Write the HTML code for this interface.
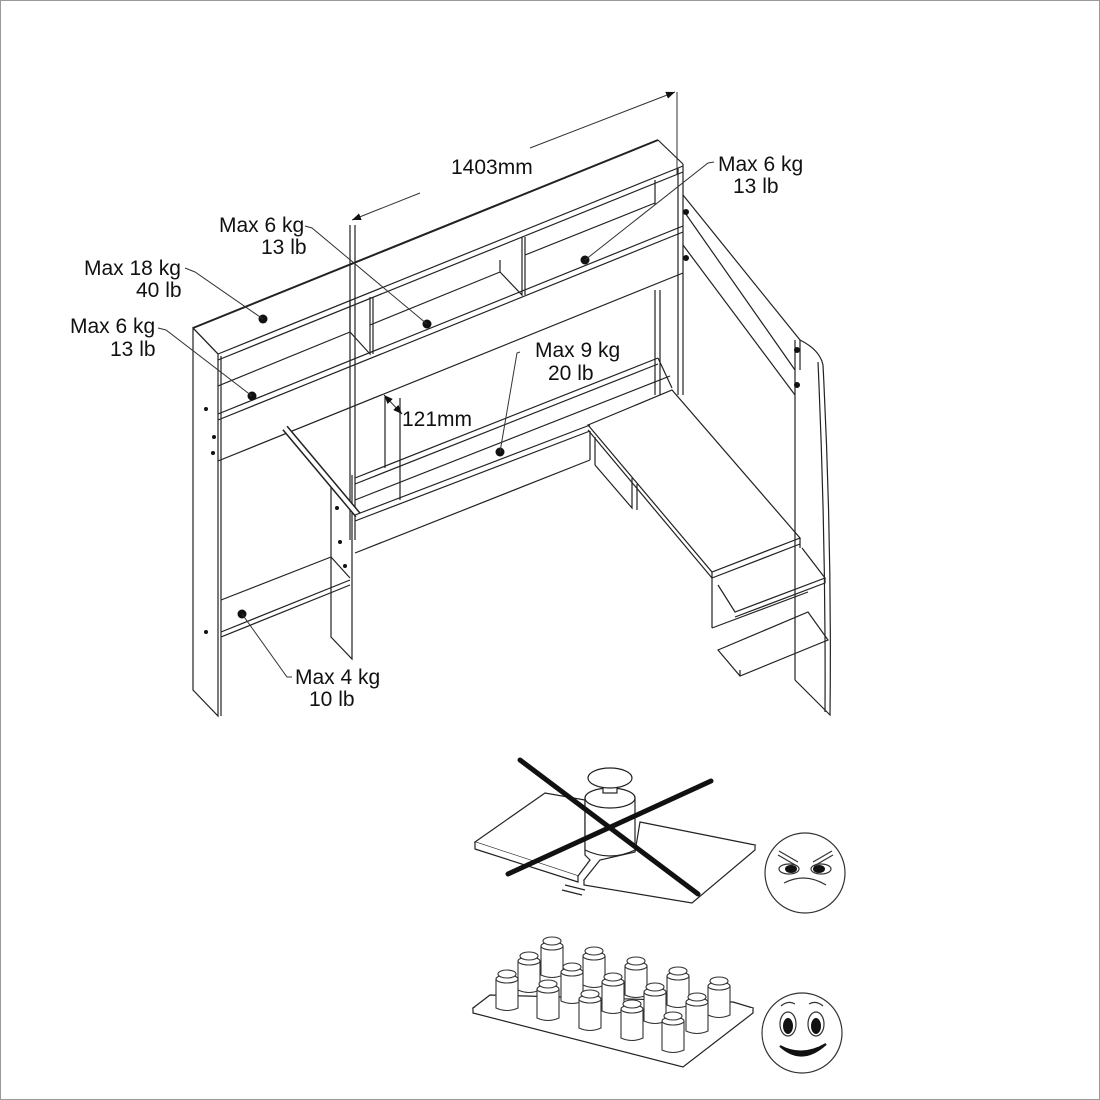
<!DOCTYPE html>
<html><head><meta charset="utf-8"><style>
html,body{margin:0;padding:0;background:#fff}
svg{display:block}
text{font-family:"Liberation Sans",sans-serif;font-size:21px;fill:#111}
</style></head><body>
<svg width="1100" height="1100" viewBox="0 0 1100 1100" xmlns="http://www.w3.org/2000/svg">
<defs>
<marker id="ar" viewBox="0 0 10 10" refX="10" refY="5" markerWidth="9" markerHeight="9" orient="auto-start-reverse"><path d="M0,1 L10,5 L0,9 z" fill="#111"/></marker>
</defs>
<rect x="0.5" y="0.5" width="1099" height="1099" fill="#fff" stroke="#999"/>
<g fill="none" stroke="#222" stroke-width="1.2">
<path d="M193,328 L193,690 L218,716 L218,354 Z"/>
<line x1="193" y1="328" x2="218" y2="354"/>
<line x1="221" y1="356" x2="221" y2="716"/>
<line x1="193" y1="328" x2="658" y2="140" stroke-width="2"/>
<line x1="658" y1="140" x2="683" y2="164"/>
<line x1="218" y1="354" x2="683" y2="166"/>
<line x1="218" y1="360" x2="683" y2="172"/>
<line x1="683" y1="164" x2="683" y2="395"/>
<line x1="678" y1="168" x2="678" y2="395"/>
<line x1="655" y1="180" x2="655" y2="205"/>
<line x1="218" y1="386" x2="350" y2="332"/>
<line x1="370" y1="325" x2="500" y2="272"/>
<line x1="525" y1="255" x2="655" y2="203"/>
<line x1="218" y1="414" x2="683" y2="226"/>
<line x1="218" y1="420" x2="683" y2="232"/>
<line x1="218" y1="461" x2="683" y2="273"/>
<path d="M350,332 L370,354 L370,297"/>
<line x1="373" y1="297" x2="373" y2="354"/>
<path d="M500,272 L500,260 M500,272 L522,295 L522,237"/>
<line x1="525" y1="237" x2="525" y2="295"/>
<line x1="350" y1="300" x2="350" y2="332"/>
<line x1="350" y1="225" x2="350" y2="540"/>
<line x1="355" y1="225" x2="355" y2="540"/>
<line x1="655" y1="290" x2="655" y2="395"/>
<line x1="660" y1="290" x2="660" y2="395"/>
<path d="M331,480 L331,637 L352,659 L352,475"/>
<line x1="221" y1="600" x2="331" y2="557"/>
<line x1="331" y1="557" x2="350" y2="578"/>
<line x1="221" y1="632" x2="350" y2="580"/>
<line x1="221" y1="637" x2="350" y2="585"/>
<line x1="285" y1="428" x2="358" y2="515" stroke-width="7" stroke="#222"/>
<line x1="285" y1="428" x2="358" y2="515" stroke-width="4" stroke="#fff"/>
<line x1="355" y1="478" x2="658" y2="358"/>
<line x1="355" y1="484" x2="658" y2="364"/>
<line x1="355" y1="500" x2="670" y2="376"/>
<line x1="658" y1="358" x2="672" y2="388"/>
<line x1="355" y1="515" x2="590" y2="425"/>
<line x1="355" y1="521" x2="590" y2="431"/>
<line x1="355" y1="553" x2="590" y2="460"/>
<line x1="385" y1="397" x2="385" y2="468"/>
<line x1="400" y1="398" x2="400" y2="500"/>
<path d="M588,425 L672,390 L800,538 L712,572 Z"/>
<line x1="588" y1="430" x2="712" y2="578"/>
<line x1="590" y1="431" x2="590" y2="460"/>
<line x1="595" y1="437" x2="595" y2="465"/>
<path d="M595,465 L632,508 L632,478"/>
<line x1="637" y1="484" x2="637" y2="510"/>
<path d="M712,572 L712,628 M712,578 L800,544 M800,538 L800,548"/>
<path d="M718,585 L735,612 L825,578 L802,548 M735,617 L825,583 L825,578"/>
<path d="M712,628 L808,592"/>
<path d="M718,650 L808,612 L828,640 L740,676 Z"/>
<line x1="740" y1="676" x2="740" y2="670"/>
<path d="M683,195 L800,340 L800,370"/>
<line x1="683" y1="210" x2="795" y2="370"/>
<line x1="683" y1="245" x2="795" y2="395"/>
<line x1="795" y1="340" x2="795" y2="680"/>
<path d="M800,340 Q820,350 823,365 Q832,540 830,715 L795,680"/>
<path d="M818,362 Q826,540 825,712"/>
</g>
<g fill="#111">
<circle cx="263" cy="319" r="4.5"/><circle cx="427" cy="324" r="4.5"/><circle cx="585" cy="260" r="4.5"/>
<circle cx="252" cy="396" r="4.5"/><circle cx="500" cy="452" r="4.5"/><circle cx="242" cy="614" r="4.5"/>
<circle cx="206" cy="409" r="2"/><circle cx="214" cy="437" r="2"/><circle cx="213" cy="453" r="2"/><circle cx="206" cy="632" r="2"/>
<circle cx="340" cy="542" r="2"/><circle cx="345" cy="566" r="2"/><circle cx="337" cy="508" r="2"/>
<circle cx="686" cy="212" r="3"/><circle cx="686" cy="258" r="3"/><circle cx="797" cy="350" r="3"/><circle cx="797" cy="385" r="3"/>
</g>
<g fill="none" stroke="#333" stroke-width="1">
<polyline points="185,268 195,272 263,319"/>
<polyline points="158,328 166,330 252,396"/>
<polyline points="305,226 312,228 427,324"/>
<polyline points="714,162 708,163 585,260"/>
<polyline points="520,352 517,353 500,452"/>
<polyline points="292,677 287,677 242,614"/>
<line x1="352" y1="220" x2="420" y2="193" marker-start="url(#ar)"/>
<line x1="530" y1="148" x2="675" y2="92" marker-end="url(#ar)"/>
<line x1="677" y1="92" x2="677" y2="175"/>
<line x1="384" y1="395" x2="402" y2="414" marker-start="url(#ar)" marker-end="url(#ar)"/>
</g>
<text x="451" y="174">1403mm</text>
<text x="718" y="171">Max 6 kg</text><text x="733" y="193">13 lb</text>
<text x="219" y="232">Max 6 kg</text><text x="261" y="254">13 lb</text>
<text x="84" y="275">Max 18 kg</text><text x="136" y="297">40 lb</text>
<text x="70" y="333">Max 6 kg</text><text x="110" y="356">13 lb</text>
<text x="535" y="357">Max 9 kg</text><text x="548" y="380">20 lb</text>
<text x="402" y="426">121mm</text>
<text x="295" y="684">Max 4 kg</text><text x="309" y="706">10 lb</text>
<g fill="#fff" stroke="#222" stroke-width="1.2">
<path d="M475,842 L545,793 L585,800 L585,855 L590,860 L578,876 Z"/>
<path d="M475,842 L475,849 L578,882 L578,876"/>
<path d="M640,822 L755,845 L692,898 L584,880 L600,860 L635,852 Z"/>
<path d="M755,845 L755,850 L692,903 L584,885 L584,880"/>
<line x1="565" y1="885" x2="585" y2="890"/><line x1="562" y1="890" x2="582" y2="895"/>
<path d="M585,798 L585,850 Q610,862 635,850 L635,798"/>
<ellipse cx="610" cy="798" rx="25" ry="10"/>
<rect x="603" y="783" width="14" height="10"/>
<ellipse cx="610" cy="778" rx="22" ry="10"/>
</g>
<g stroke="#111" stroke-width="5" stroke-linecap="round">
<line x1="520" y1="760" x2="698" y2="894"/><line x1="508" y1="874" x2="711" y2="781"/>
</g>
<g fill="#fff" stroke="#222" stroke-width="1.2">
<path d="M473,1008 L490,995 L733,1002 L753,1008 L683,1062 Z"/>
<path d="M473,1008 L473,1013 L683,1067 L753,1013 L753,1008"/>
</g>
<g fill="#fff" stroke="#333" stroke-width="1.1">
<g transform="translate(552,942)"><path d="M-11,4 L-11,33 Q0,38 11,33 L11,4"/><ellipse cx="0" cy="4" rx="11" ry="4"/><ellipse cx="0" cy="-1" rx="9" ry="4"/></g>
<g transform="translate(529,957)"><path d="M-11,4 L-11,33 Q0,38 11,33 L11,4"/><ellipse cx="0" cy="4" rx="11" ry="4"/><ellipse cx="0" cy="-1" rx="9" ry="4"/></g>
<g transform="translate(594,952)"><path d="M-11,4 L-11,33 Q0,38 11,33 L11,4"/><ellipse cx="0" cy="4" rx="11" ry="4"/><ellipse cx="0" cy="-1" rx="9" ry="4"/></g>
<g transform="translate(636,962)"><path d="M-11,4 L-11,33 Q0,38 11,33 L11,4"/><ellipse cx="0" cy="4" rx="11" ry="4"/><ellipse cx="0" cy="-1" rx="9" ry="4"/></g>
<g transform="translate(507,975)"><path d="M-11,4 L-11,33 Q0,38 11,33 L11,4"/><ellipse cx="0" cy="4" rx="11" ry="4"/><ellipse cx="0" cy="-1" rx="9" ry="4"/></g>
<g transform="translate(572,968)"><path d="M-11,4 L-11,33 Q0,38 11,33 L11,4"/><ellipse cx="0" cy="4" rx="11" ry="4"/><ellipse cx="0" cy="-1" rx="9" ry="4"/></g>
<g transform="translate(678,972)"><path d="M-11,4 L-11,33 Q0,38 11,33 L11,4"/><ellipse cx="0" cy="4" rx="11" ry="4"/><ellipse cx="0" cy="-1" rx="9" ry="4"/></g>
<g transform="translate(613,978)"><path d="M-11,4 L-11,33 Q0,38 11,33 L11,4"/><ellipse cx="0" cy="4" rx="11" ry="4"/><ellipse cx="0" cy="-1" rx="9" ry="4"/></g>
<g transform="translate(719,982)"><path d="M-11,4 L-11,33 Q0,38 11,33 L11,4"/><ellipse cx="0" cy="4" rx="11" ry="4"/><ellipse cx="0" cy="-1" rx="9" ry="4"/></g>
<g transform="translate(548,985)"><path d="M-11,4 L-11,33 Q0,38 11,33 L11,4"/><ellipse cx="0" cy="4" rx="11" ry="4"/><ellipse cx="0" cy="-1" rx="9" ry="4"/></g>
<g transform="translate(655,988)"><path d="M-11,4 L-11,33 Q0,38 11,33 L11,4"/><ellipse cx="0" cy="4" rx="11" ry="4"/><ellipse cx="0" cy="-1" rx="9" ry="4"/></g>
<g transform="translate(590,995)"><path d="M-11,4 L-11,33 Q0,38 11,33 L11,4"/><ellipse cx="0" cy="4" rx="11" ry="4"/><ellipse cx="0" cy="-1" rx="9" ry="4"/></g>
<g transform="translate(697,998)"><path d="M-11,4 L-11,33 Q0,38 11,33 L11,4"/><ellipse cx="0" cy="4" rx="11" ry="4"/><ellipse cx="0" cy="-1" rx="9" ry="4"/></g>
<g transform="translate(632,1005)"><path d="M-11,4 L-11,33 Q0,38 11,33 L11,4"/><ellipse cx="0" cy="4" rx="11" ry="4"/><ellipse cx="0" cy="-1" rx="9" ry="4"/></g>
<g transform="translate(673,1017)"><path d="M-11,4 L-11,33 Q0,38 11,33 L11,4"/><ellipse cx="0" cy="4" rx="11" ry="4"/><ellipse cx="0" cy="-1" rx="9" ry="4"/></g>
</g>
<g fill="none" stroke="#333" stroke-width="1.2">
<circle cx="805" cy="873" r="40"/>
<path d="M784,883 Q805,872 826,885"/>
<path d="M778,855 L797,866 M779,851 L798,862"/>
<path d="M832,851 L813,862 M833,855 L814,866"/>
<ellipse cx="789" cy="869" rx="10" ry="5"/><ellipse cx="821" cy="869" rx="10" ry="5"/>
</g>
<ellipse cx="791" cy="869" rx="6" ry="4" fill="#111"/><ellipse cx="819" cy="869" rx="6" ry="4" fill="#111"/>
<g fill="none" stroke="#333" stroke-width="1.2">
<circle cx="802" cy="1033" r="40"/>
<ellipse cx="788" cy="1024" rx="8" ry="12"/><ellipse cx="816" cy="1024" rx="8" ry="12"/>
<path d="M781,1006 Q788,1000 795,1004 M809,1004 Q816,1000 823,1006"/>
</g>
<ellipse cx="788" cy="1026" rx="5" ry="8" fill="#111"/><ellipse cx="816" cy="1026" rx="5" ry="8" fill="#111"/>
<path d="M780,1046 Q802,1066 826,1044 Q802,1058 780,1046 Z" fill="#111" stroke="#111" stroke-width="2"/>
</svg>
</body></html>
